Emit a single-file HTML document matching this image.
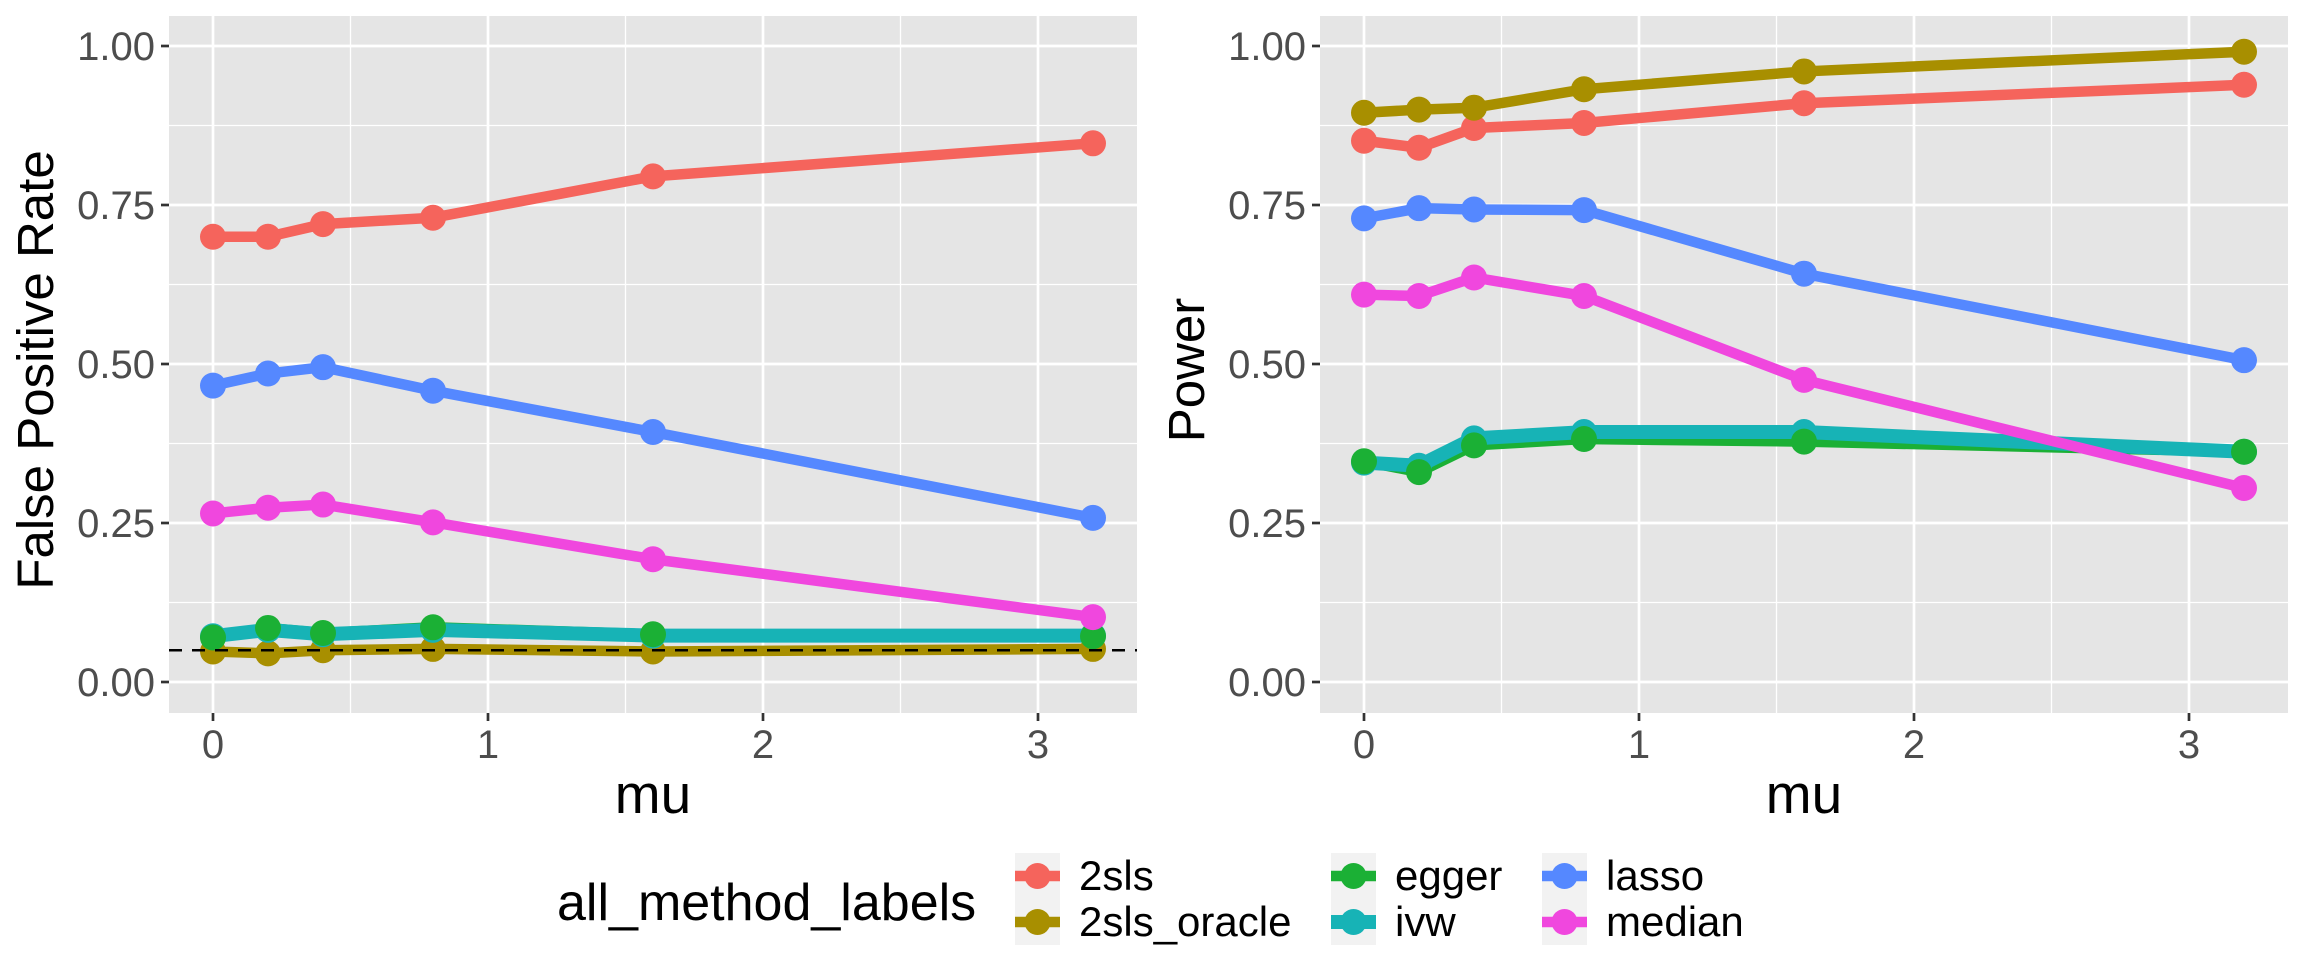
<!DOCTYPE html>
<html><head><meta charset="utf-8"><style>
body{margin:0;background:#fff;}
svg{display:block;font-family:"Liberation Sans",sans-serif;}
</style></head><body>
<svg id="chart" width="2304" height="960" viewBox="0 0 2304 960" xmlns="http://www.w3.org/2000/svg"></svg>
<script>
const muValues = [0, 0.2, 0.4, 0.8, 1.6, 3.2];
const methods = ["2sls", "2sls_oracle", "egger", "ivw", "lasso", "median"];
const colors = ["#F5645C", "#A88F00", "#1BB035", "#17B3B6", "#5588FF", "#F047DE"];
const fpr2sls = [0.70, 0.70, 0.72, 0.73, 0.795, 0.847];
const fprOracle = [0.048, 0.045, 0.05, 0.052, 0.048, 0.052];
const fprEgger = [0.07, 0.085, 0.077, 0.086, 0.075, 0.072];
const fprIvw = [0.072, 0.082, 0.075, 0.082, 0.073, 0.073];
const fprLasso = [0.466, 0.485, 0.495, 0.458, 0.393, 0.258];
const fprMedian = [0.265, 0.274, 0.279, 0.251, 0.193, 0.102];
const pow2sls = [0.851, 0.84, 0.871, 0.879, 0.91, 0.939];
const powOracle = [0.895, 0.90, 0.903, 0.932, 0.96, 0.991];
const powEgger = [0.347, 0.33, 0.372, 0.382, 0.378, 0.362];
const powIvw = [0.345, 0.34, 0.383, 0.393, 0.393, 0.362];
const powLasso = [0.729, 0.745, 0.743, 0.742, 0.642, 0.506];
const powMedian = [0.609, 0.607, 0.636, 0.607, 0.475, 0.305];
const yTicks = [0, 0.25, 0.5, 0.75, 1];
const yTickLabels = ["0.00", "0.25", "0.50", "0.75", "1.00"];
const xTicks = [0, 1, 2, 3];
const refLine = 0.05;

const NS = "http://www.w3.org/2000/svg";
const svg = document.getElementById("chart");
function mk(tag, attrs, parent){const e=document.createElementNS(NS,tag);for(const k in attrs)e.setAttribute(k,attrs[k]);(parent||svg).appendChild(e);return e;}
const lineW = [10.5, 10.5, 10.5, 14, 10.5, 10.5];
const pointOrder = [0, 1, 3, 2, 4, 5];

function panel(px, title, series, withRef, key){
  const left=px, right=px+968, top=16, bottom=713;
  const x=v=>px+44+v*275;
  const y=v=>682-v*636;
  const g=mk("g",{});
  
  
  const bg=mk("rect",{x:left,y:top,width:right-left,height:bottom-top,fill:"#E5E5E5"},g);
  
  
  [0.5,1.5,2.5].forEach(v=>mk("line",{x1:x(v),x2:x(v),y1:top,y2:bottom,stroke:"#fff","stroke-width":1.3},g));
  [0.125,0.375,0.625,0.875].forEach(v=>mk("line",{x1:left,x2:right,y1:y(v),y2:y(v),stroke:"#fff","stroke-width":1.3},g));
  xTicks.forEach(v=>{
    mk("line",{x1:x(v),x2:x(v),y1:top,y2:bottom,stroke:"#fff","stroke-width":2.7},g);
    mk("line",{x1:x(v),x2:x(v),y1:bottom,y2:bottom+8,stroke:"#333","stroke-width":2.7},g);
    const t=mk("text",{x:x(v),y:758,"text-anchor":"middle","font-size":40,fill:"#4D4D4D"},g);
    t.textContent=v;
    
    
  });
  yTicks.forEach((v,i)=>{
    mk("line",{x1:left,x2:right,y1:y(v),y2:y(v),stroke:"#fff","stroke-width":2.7},g);
    mk("line",{x1:left-8,x2:left,y1:y(v),y2:y(v),stroke:"#333","stroke-width":2.7},g);
    const t=mk("text",{x:left-14,y:y(v)+14,"text-anchor":"end","font-size":40,fill:"#4D4D4D"},g);
    t.textContent=yTickLabels[i];
    
    
  });
  series.forEach((s,i)=>{
    const ln=mk("polyline",{points:s.map((v,j)=>x(muValues[j])+","+y(v)).join(" "),fill:"none",stroke:colors[i],"stroke-width":lineW[i],"stroke-linejoin":"round"},g);
    
    
  });
  pointOrder.forEach(i=>{
    series[i].forEach((v,j)=>{
      const c=mk("circle",{cx:x(muValues[j]),cy:y(v),r:13,fill:colors[i]},g);
      
      
    });
  });
  if(withRef){
    const r=mk("line",{x1:left,x2:right,y1:y(refLine),y2:y(refLine),stroke:"#000","stroke-width":2.5,"stroke-dasharray":"13 10"},g);
    
    
  }
  const xt=mk("text",{x:(left+right)/2,y:813,"text-anchor":"middle","font-size":55,fill:"#000"},g);
  xt.textContent="mu";
  
  
  const yt=mk("text",{x:0,y:0,"text-anchor":"middle","font-size":51,fill:"#000",transform:`translate(${px-116},370) rotate(-90)`},g);
  yt.textContent=title;
  
  
}
panel(169,"False Positive Rate",[fpr2sls,fprOracle,fprEgger,fprIvw,fprLasso,fprMedian],true,"fpr");
panel(1320,"Power",[pow2sls,powOracle,powEgger,powIvw,powLasso,powMedian],false,"power");

const lg=mk("g",{});


const lt=mk("text",{x:557,y:920,"font-size":52,fill:"#000"},lg);
lt.textContent="all_method_labels";


const colX=[1015,1331,1542];
methods.forEach((m,i)=>{
  const cx=colX[Math.floor(i/2)], cy=853+(i%2)*46;
  const e=mk("g",{},lg);
  
  
  mk("rect",{x:cx,y:cy,width:45,height:46,fill:"#F2F2F2"},e);
  mk("line",{x1:cx,x2:cx+45,y1:cy+23,y2:cy+23,stroke:colors[i],"stroke-width":lineW[i]},e);
  mk("circle",{cx:cx+22.5,cy:cy+23,r:13,fill:colors[i]},e);
  const t=mk("text",{x:cx+64,y:cy+37,"font-size":42,fill:"#000"},e);
  t.textContent=m;
});
</script>
</body></html>
